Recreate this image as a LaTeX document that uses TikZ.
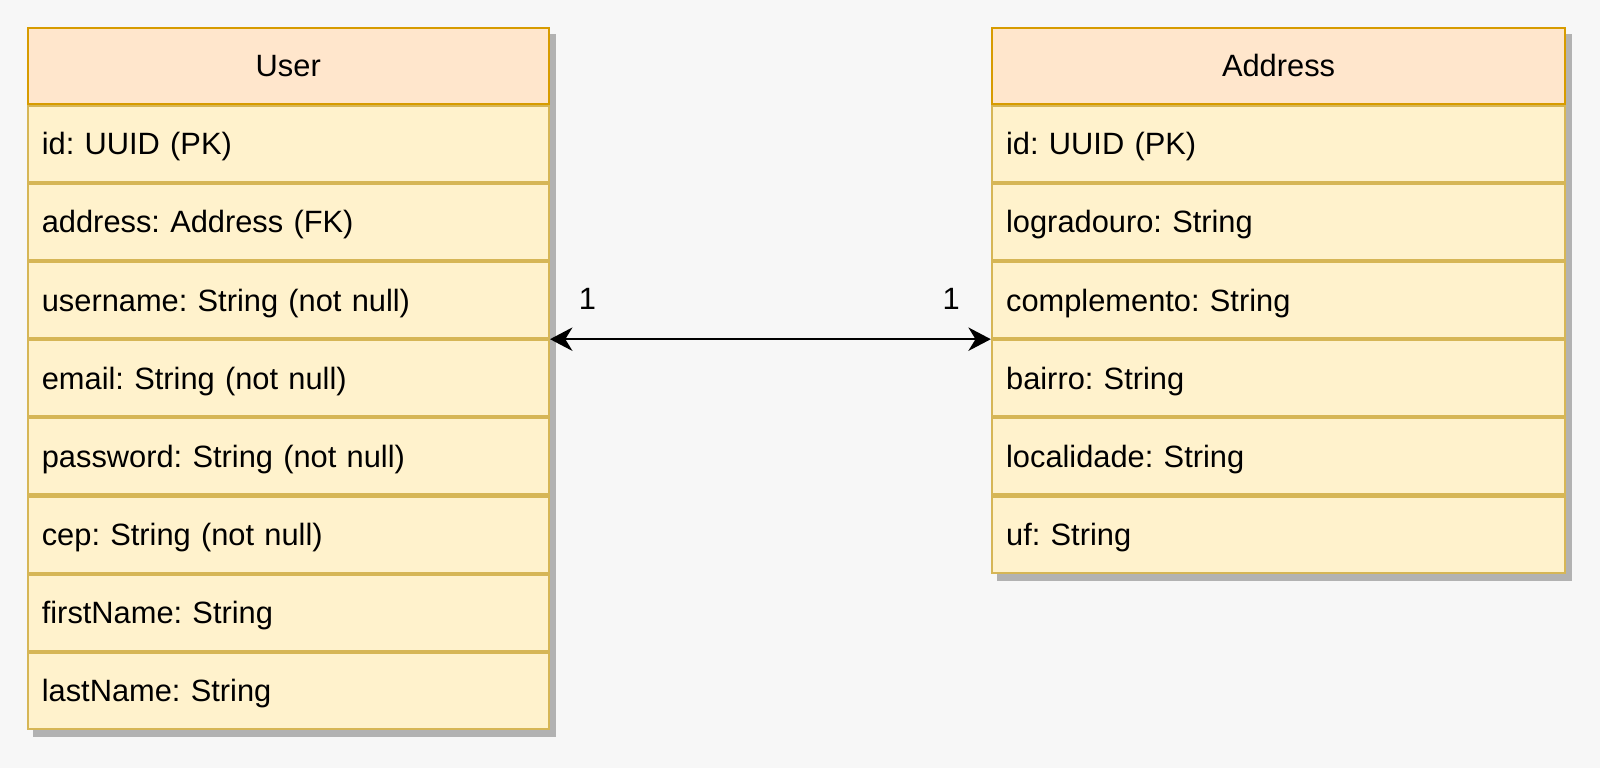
\documentclass[tikz,border=0pt]{standalone}
\usepackage{fontspec}
\setmainfont{Liberation Sans}
\frenchspacing
\usetikzlibrary{arrows.meta,positioning,backgrounds}
\definecolor{bgfill}{HTML}{F7F7F7}
\definecolor{headfill}{HTML}{FFE6CC}
\definecolor{headline}{HTML}{D79B00}
\definecolor{rowfill}{HTML}{FFF2CC}
\definecolor{rowline}{HTML}{D6B656}
\tikzset{%
  >={Stealth[width=11.5pt,length=11pt,inset=3.5pt]},
            base/.style = {rectangle, line width=1pt, inner xsep=7pt, inner ysep=0pt,
                           minimum height=37.3pt, text height=10.8pt, text depth=0pt,
                           font=\fontsize{15.1}{18}\selectfont},
  tablehead/.style = {base, fill=headfill, draw=headline, text width=#1, align=center},
  tablerow/.style  = {base, fill=rowfill, draw=rowline, text width=#1, align=left},
  card/.style      = {inner sep=0pt, font=\fontsize{15.1}{18}\selectfont},
  shade/.style     = {fill=black!30},
}
\begin{document}
\begin{tikzpicture}
  \useasboundingbox (0,0) rectangle (784pt,-376.3pt);

  % User table
  \node (user)      [tablehead=241.5pt, anchor=north west] at (13pt,-13pt) {User};
  \node (uId)       [tablerow=241.5pt, below=0pt of user]      {id: UUID (PK)};
  \node (uAddress)  [tablerow=241.5pt, below=0pt of uId]       {address: Address (FK)};
  \node (uUsername) [tablerow=241.5pt, below=0pt of uAddress]  {username: String (not null)};
  \node (uEmail)    [tablerow=241.5pt, below=0pt of uUsername] {email: String (not null)};
  \node (uPassword) [tablerow=241.5pt, below=0pt of uEmail]    {password: String (not null)};
  \node (uCep)      [tablerow=241.5pt, below=0pt of uPassword] {cep: String (not null)};
  \node (uFirst)    [tablerow=241.5pt, below=0pt of uCep]      {firstName: String};
  \node (uLast)     [tablerow=241.5pt, below=0pt of uFirst]    {lastName: String};

  % Address table
  \node (address)      [tablehead=267pt, anchor=north west] at (485.5pt,-13pt) {Address};
  \node (aId)          [tablerow=267pt, below=0pt of address]      {id: UUID (PK)};
  \node (aLogradouro)  [tablerow=267pt, below=0pt of aId]          {logradouro: String};
  \node (aComplemento) [tablerow=267pt, below=0pt of aLogradouro]  {complemento: String};
  \node (aBairro)      [tablerow=267pt, below=0pt of aComplemento] {bairro: String};
  \node (aLocalidade)  [tablerow=267pt, below=0pt of aBairro]      {localidade: String};
  \node (aUf)          [tablerow=267pt, below=0pt of aLocalidade]  {uf: String};

  % background and shadows
  \begin{scope}[on background layer]
    \fill[bgfill] (0,0) rectangle (784pt,-376.3pt);
    \fill[shade] ([shift={(3pt,-3.5pt)}]user.north west) rectangle ([shift={(3pt,-3.5pt)}]uLast.south east);
    \fill[shade] ([shift={(3pt,-3.5pt)}]address.north west) rectangle ([shift={(3pt,-3.5pt)}]aUf.south east);
  \end{scope}

  % relation
  \draw[<->, line width=1pt] (uUsername.south east) -- (aComplemento.south west);
  \node (oneUser) [card, right=14pt of uUsername.south east, yshift=19.5pt]   {1};
  \node (oneAddr) [card, left=15pt of aComplemento.south west, yshift=19.5pt] {1};
\end{tikzpicture}
\end{document}
